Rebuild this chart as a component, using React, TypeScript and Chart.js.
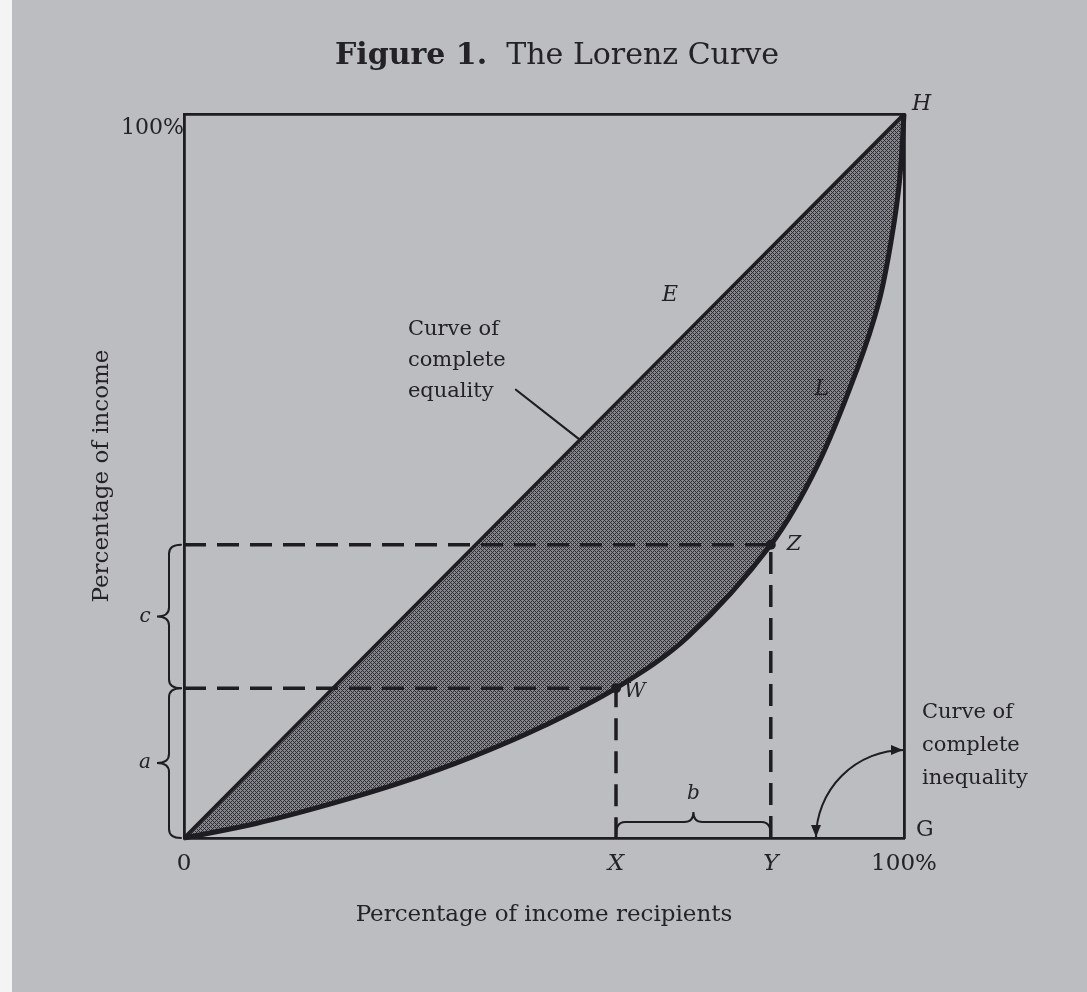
import React, { useEffect, useRef } from "react";
import { Chart, registerables } from "chart.js";

Chart.register(...registerables);

// ---------------- data ----------------
const equalityX = [0, 100];
const equalityY = [0, 100];
const lorenzX = [0, 10, 20, 30, 40, 50, 60, 70, 81.5, 88, 93.5, 96.5, 98.3, 99.4, 100];
const lorenzY = [0, 2, 4.6, 7.6, 11.2, 15.5, 20.7, 27.8, 40.5, 51.5, 64.8, 74, 83, 91, 100];
const markerNames = ["W", "Z"];
const markerX = [60, 81.5];
const markerY = [20.7, 40.5];
const xTickValues = [0, 60, 81.5, 100];
const xTickLabels = ["0", "X", "Y", "100%"];
const xTickItalic = [false, true, true, false];
const yTickValues = [100];
const yTickLabels = ["100%"];
const equalityLabelLines = ["Curve of", "complete", "equality"];
const inequalityLabelLines = ["Curve of", "complete", "inequality"];

// ---------------- style ----------------
const SERIF = '"DejaVu Serif", "Liberation Serif", serif';
const INK = "#1d1d22";
const TEXT = "#222227";
const BG = "#bcbdc1";

function makePattern(ctx: CanvasRenderingContext2D) {
  const c = document.createElement("canvas");
  c.width = 4;
  c.height = 4;
  const g = c.getContext("2d")!;
  g.fillStyle = "#86878c";
  g.fillRect(0, 0, 4, 4);
  g.fillStyle = "#2c2c32";
  for (let y = 0; y < 4; y++) {
    for (let x = 0; x < 4; x++) {
      if ((x + y) % 4 === 0 || (x - y + 4) % 4 === 0) g.fillRect(x, y, 1, 1);
    }
  }
  return ctx.createPattern(c, "repeat")!;
}

function drawText(
  ctx: CanvasRenderingContext2D,
  s: string,
  x: number,
  y: number,
  size: number,
  opts: { style?: string; weight?: string; align?: CanvasTextAlign } = {}
) {
  ctx.font = `${opts.style || "normal"} ${opts.weight || "normal"} ${size}px ${SERIF}`;
  ctx.fillStyle = TEXT;
  ctx.textAlign = opts.align || "left";
  ctx.textBaseline = "middle";
  ctx.fillText(s, x, y);
}

function braceV(ctx: CanvasRenderingContext2D, x: number, y1: number, y2: number, hook: number, tip: number) {
  const ym = (y1 + y2) / 2;
  const r = Math.min(9, (y2 - y1) / 4);
  ctx.beginPath();
  ctx.moveTo(x + hook, y1);
  ctx.quadraticCurveTo(x, y1, x, y1 + r);
  ctx.lineTo(x, ym - r);
  ctx.quadraticCurveTo(x, ym, x - tip, ym);
  ctx.quadraticCurveTo(x, ym, x, ym + r);
  ctx.lineTo(x, y2 - r);
  ctx.quadraticCurveTo(x, y2, x + hook, y2);
  ctx.stroke();
}

function braceH(ctx: CanvasRenderingContext2D, y: number, x1: number, x2: number, hook: number, tip: number) {
  const xm = (x1 + x2) / 2;
  const r = Math.min(9, (x2 - x1) / 4);
  ctx.beginPath();
  ctx.moveTo(x1, y + hook);
  ctx.quadraticCurveTo(x1, y, x1 + r, y);
  ctx.lineTo(xm - r, y);
  ctx.quadraticCurveTo(xm, y, xm, y - tip);
  ctx.quadraticCurveTo(xm, y, xm + r, y);
  ctx.lineTo(x2 - r, y);
  ctx.quadraticCurveTo(x2, y, x2, y + hook);
  ctx.stroke();
}

const annotate = {
  id: "annotate",
  beforeDraw(chart: any) {
    const { ctx, width, height } = chart;
    ctx.save();
    ctx.fillStyle = "#f4f4f4";
    ctx.fillRect(0, 0, width, height);
    ctx.fillStyle = BG;
    ctx.fillRect(12, 0, width - 12, height);
    ctx.restore();
  },
  afterDraw(chart: any) {
    const { ctx, chartArea: ca, scales } = chart;
    const px = (v: number) => scales.x.getPixelForValue(v);
    const py = (v: number) => scales.y.getPixelForValue(v);
    ctx.save();

    // title
    const cx = (ca.left + ca.right) / 2 + 13;
    ctx.font = `normal bold 30px ${SERIF}`;
    const p1 = "Figure 1.";
    const w1 = ctx.measureText(p1).width;
    ctx.font = `normal normal 30px ${SERIF}`;
    const p2 = "  The Lorenz Curve";
    const w2 = ctx.measureText(p2).width;
    const tx = cx - (w1 + w2) / 2;
    ctx.textBaseline = "alphabetic";
    ctx.textAlign = "left";
    ctx.fillStyle = TEXT;
    ctx.font = `normal bold 30px ${SERIF}`;
    ctx.fillText(p1, tx, ca.top - 50);
    ctx.font = `normal normal 30px ${SERIF}`;
    ctx.fillText(p2, tx + w1, ca.top - 50);

    // letters
    drawText(ctx, "H", px(100) + 8, py(100) - 10, 22, { style: "italic" });
    drawText(ctx, "G", px(100) + 12, py(0) - 8, 22);
    drawText(ctx, "E", px(67.5), py(75), 22, { style: "italic", align: "center" });
    drawText(ctx, "L", px(88.6), py(62), 22, { style: "italic", align: "center" });
    drawText(ctx, markerNames[0], px(markerX[0]) + 8, py(markerY[0]) + 3, 21, { style: "italic" });
    drawText(ctx, markerNames[1], px(markerX[1]) + 16, py(markerY[1]), 21, { style: "italic" });

    ctx.strokeStyle = INK;
    ctx.lineWidth = 2;
    ctx.lineCap = "round";

    // braces a and c
    const spine = px(0) - 15;
    braceV(ctx, spine, py(markerY[0]), py(0), 12, 12);
    braceV(ctx, spine, py(markerY[1]), py(markerY[0]), 12, 12);
    drawText(ctx, "a", spine - 24, (py(markerY[0]) + py(0)) / 2, 20, { style: "italic", align: "center" });
    drawText(ctx, "c", spine - 24, (py(markerY[1]) + py(markerY[0])) / 2, 20, { style: "italic", align: "center" });

    // brace b
    const by = py(0) - 16;
    braceH(ctx, by, px(markerX[0]), px(markerX[1]), 13, 10);
    drawText(ctx, "b", (px(markerX[0]) + px(markerX[1])) / 2, by - 28, 20, { style: "italic", align: "center" });

    // curve of complete equality label + pointer
    const ex = px(31.1);
    const ey = py(70.2);
    equalityLabelLines.forEach((s, i) => drawText(ctx, s, ex, ey + i * 31, 21));
    ctx.lineWidth = 2.2;
    ctx.beginPath();
    ctx.moveTo(ex + 108, ey + 60);
    ctx.lineTo(px(55), py(55));
    ctx.stroke();

    // curve of complete inequality: arc with arrows
    const gx = px(100);
    const gy = py(0);
    const r = 88;
    ctx.lineWidth = 2;
    ctx.beginPath();
    ctx.arc(gx, gy, r, -Math.PI / 2, Math.PI, true);
    ctx.stroke();
    ctx.fillStyle = INK;
    ctx.beginPath();
    ctx.moveTo(gx - 1, gy - r);
    ctx.lineTo(gx - 13, gy - r - 5);
    ctx.lineTo(gx - 13, gy - r + 5);
    ctx.closePath();
    ctx.fill();
    ctx.beginPath();
    ctx.moveTo(gx - r, gy - 1);
    ctx.lineTo(gx - r - 5, gy - 13);
    ctx.lineTo(gx - r + 5, gy - 13);
    ctx.closePath();
    ctx.fill();
    inequalityLabelLines.forEach((s, i) => drawText(ctx, s, gx + 18, gy - 125 + i * 33, 21));

    ctx.restore();
  },
};

export default function App() {
  const ref = useRef<HTMLCanvasElement>(null);
  useEffect(() => {
    document.body.style.margin = "0";
    document.body.style.overflow = "hidden";
    const canvas = ref.current!;
    const pattern = makePattern(canvas.getContext("2d")!);

    const frameBorder = { display: true, color: INK, width: 2.8 };
    const titleFont = { family: SERIF, size: 23 };

    const chart = new Chart(canvas, {
      type: "line",
      data: {
        datasets: [
          {
            label: "Curve of complete equality",
            data: equalityX.map((x, i) => ({ x, y: equalityY[i] })),
            borderColor: INK,
            borderWidth: 3.5,
            pointRadius: 0,
            fill: false,
            tension: 0,
            clip: 12,
            order: 2,
          },
          {
            label: "Lorenz curve",
            data: lorenzX.map((x, i) => ({ x, y: lorenzY[i] })),
            borderColor: INK,
            borderWidth: 5,
            pointRadius: 0,
            tension: 0.35,
            fill: { target: 0 },
            backgroundColor: pattern,
            clip: 12,
            order: 3,
          },
          ...markerNames.map((n, i) => ({
            label: `${n} guides`,
            data: [
              { x: 0, y: markerY[i] },
              { x: markerX[i], y: markerY[i] },
              { x: markerX[i], y: 0 },
            ],
            borderColor: INK,
            borderWidth: 3.5,
            borderDash: [22, 11],
            pointRadius: 0,
            fill: false,
            tension: 0,
            clip: 12,
            order: 1,
          })),
          {
            label: "points",
            data: markerX.map((x, i) => ({ x, y: markerY[i] })),
            showLine: false,
            pointRadius: 5,
            pointBackgroundColor: INK,
            pointBorderWidth: 0,
            clip: 12,
            order: 0,
          },
        ] as any,
      },
      options: {
        responsive: false,
        animation: false,
        devicePixelRatio: 1,
        layout: { padding: { left: 0, right: 183, top: 114, bottom: 44 } },
        plugins: {
          legend: { display: false },
          tooltip: { enabled: false },
          title: { display: false },
          filler: { drawTime: "beforeDatasetsDraw" },
        } as any,
        scales: {
          x: {
            type: "linear",
            position: "bottom",
            min: 0,
            max: 100,
            afterBuildTicks: (s: any) => {
              s.ticks = xTickValues.map((v) => ({ value: v }));
            },
            afterFit: (s: any) => {
              s.height = 110;
            },
            ticks: {
              autoSkip: false,
              maxRotation: 0,
              padding: 12,
              color: TEXT,
              font: (c: any) => ({ family: SERIF, size: 23, style: xTickItalic[c.index] ? "italic" : "normal" }),
              callback: (_v: any, i: number) => xTickLabels[i],
            },
            grid: { display: false, drawTicks: false },
            border: frameBorder,
            title: {
              display: true,
              text: "Percentage of income recipients",
              color: TEXT,
              font: titleFont,
              padding: { top: 0, bottom: 19 },
            },
          },
          y: {
            type: "linear",
            position: "left",
            min: 0,
            max: 100,
            afterBuildTicks: (s: any) => {
              s.ticks = yTickValues.map((v) => ({ value: v }));
            },
            afterFit: (s: any) => {
              s.width = 184;
            },
            ticks: {
              autoSkip: false,
              padding: 0,
              labelOffset: 14,
              color: TEXT,
              font: { family: SERIF, size: 22 },
              callback: (_v: any, i: number) => yTickLabels[i],
            },
            grid: { display: false, drawTicks: false },
            border: frameBorder,
            title: {
              display: true,
              text: "Percentage of income",
              color: TEXT,
              font: titleFont,
              padding: { top: 88, bottom: 0 },
            },
          },
          x2: {
            type: "linear",
            position: "top",
            min: 0,
            max: 100,
            afterFit: (s: any) => {
              s.height = 0;
            },
            ticks: { display: false },
            grid: { display: false, drawTicks: false },
            border: frameBorder,
          },
          y2: {
            type: "linear",
            position: "right",
            min: 0,
            max: 100,
            afterFit: (s: any) => {
              s.width = 0;
            },
            ticks: { display: false },
            grid: { display: false, drawTicks: false },
            border: frameBorder,
          },
        } as any,
      },
      plugins: [annotate],
    });
    return () => chart.destroy();
  }, []);
  return <canvas ref={ref} width={1087} height={992} style={{ display: "block", width: 1087, height: 992 }} />;
}
